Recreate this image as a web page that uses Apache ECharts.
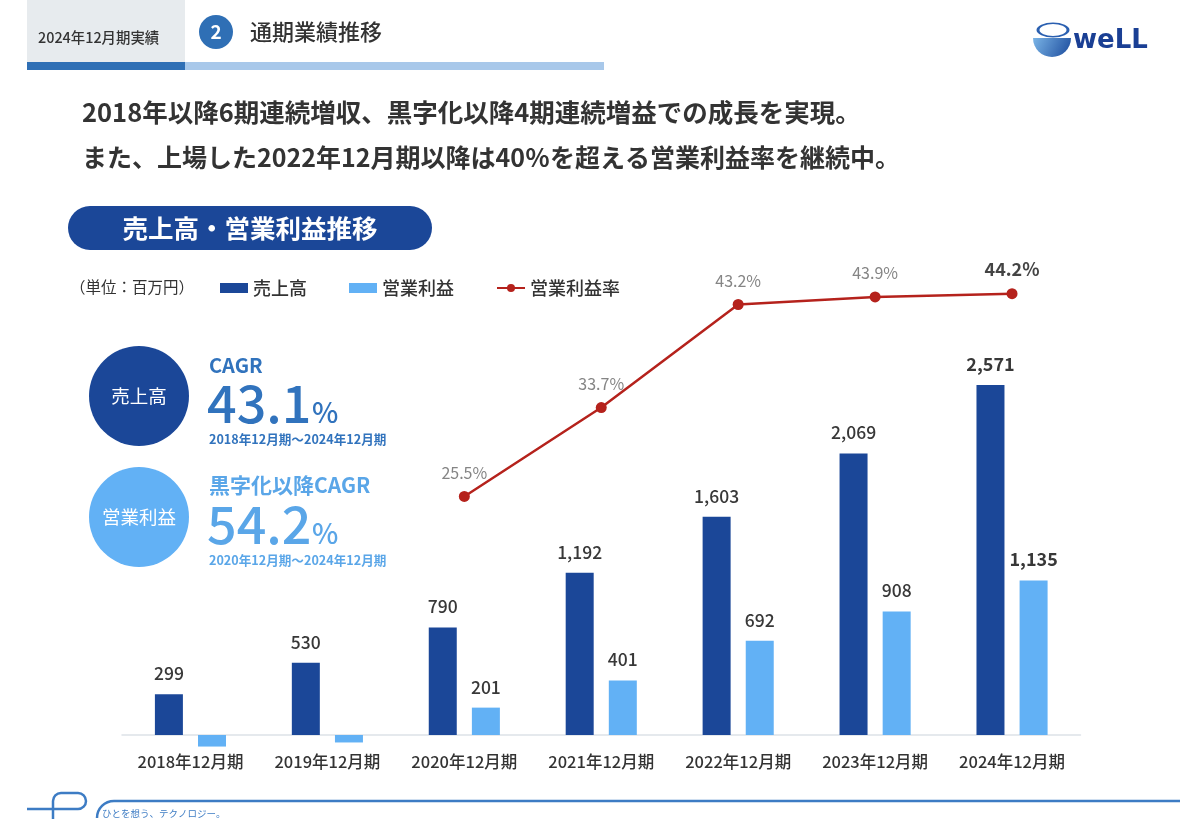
<!DOCTYPE html>
<html>
<head>
<meta charset="utf-8">
<script src="https://cdn.jsdelivr.net/npm/echarts@6/dist/echarts.min.js"></script>
<style>
html,body{margin:0;padding:0;background:#fff;}
#main{width:1200px;height:819px;}
</style>
</head>
<body>
<div id="main"></div>
<script>
const categories = ['2018年12月期','2019年12月期','2020年12月期','2021年12月期','2022年12月期','2023年12月期','2024年12月期'];
const sales = [299, 530, 790, 1192, 1603, 2069, 2571];
const opProfit = [-85, -55, 201, 401, 692, 908, 1135];
const opMargin = [null, null, 25.5, 33.7, 43.2, 43.9, 44.2];

const FONT = '"Noto Sans CJK JP", "Noto Sans", sans-serif';
const DARK = '#1b4798';
const LIGHT = '#62b1f5';
const RED = '#b5221c';
const MID = '#3173bd';
const LIGHTTXT = '#5aa6e8';
const FOOT = '#3d7cc4';
const LAST = categories.length - 1;

const fmt = v => v.toLocaleString('en-US');

const salesData = sales.map((v, i) => ({
  value: v,
  label: i === LAST ? { fontSize: 18, fontWeight: 'bold' } : {}
}));
const opData = opProfit.map((v, i) => ({
  value: v,
  label: v < 0 ? { show: false } : (i === LAST ? { fontSize: 18, fontWeight: 'bold' } : {})
}));
const marginData = opMargin.map((v, i) => (v === null ? null : {
  value: v,
  label: i === LAST ? { fontSize: 18, fontWeight: 'bold', color: '#444' } : {}
}));

const chart = echarts.init(document.getElementById('main'), null, { renderer: 'canvas' });

const stroke = { fill: 'none', stroke: FOOT, lineWidth: 2.5 };

const graphics = [
  // header
  { type: 'rect', shape: { x: 27, y: 0, width: 158, height: 62 }, style: { fill: '#e7ebee' } },
  { type: 'text', x: 38, y: 38, style: { text: '2024年12月期実績', font: '500 14.4px ' + FONT, fill: '#333', verticalAlign: 'middle' } },
  { type: 'rect', shape: { x: 27, y: 62, width: 158, height: 8 }, style: { fill: '#2f6fb5' } },
  { type: 'rect', shape: { x: 185, y: 62, width: 419, height: 8 }, style: { fill: '#a8c8ea' } },
  { type: 'circle', shape: { cx: 216, cy: 32, r: 17 }, style: { fill: '#2f6fb5' } },
  { type: 'text', x: 216, y: 32, style: { text: '2', font: 'bold 19px ' + FONT, fill: '#fff', align: 'center', verticalAlign: 'middle' } },
  { type: 'text', x: 250, y: 32, style: { text: '通期業績推移', font: '500 22px ' + FONT, fill: '#333', verticalAlign: 'middle' } },
  // logo
  { type: 'sector', shape: { cx: 1052, cy: 38, r0: 0, r: 19, startAngle: 0, endAngle: Math.PI, clockwise: true },
    style: { fill: { type: 'linear', x: 0, y: 0, x2: 1, y2: 1, colorStops: [{ offset: 0, color: '#7ab4e6' }, { offset: 1, color: '#1a4a9c' }] } } },
  { type: 'arc', x: 1053, y: 30, scaleY: 0.45, shape: { cx: 0, cy: 0, r: 15, startAngle: 0, endAngle: Math.PI * 2 },
    style: { fill: 'none', stroke: '#2a5fb0', lineWidth: 3 } },
  { type: 'text', x: 1073, y: 41, style: { text: 'weLL', font: 'bold 26px "DejaVu Sans", sans-serif', fill: '#1a3f94', verticalAlign: 'middle' } },
  // headline
  { type: 'text', x: 82, y: 112, style: { text: '2018年以降6期連続増収、黒字化以降4期連続増益での成長を実現。', font: 'bold 25.5px ' + FONT, fill: '#333', verticalAlign: 'middle' } },
  { type: 'text', x: 82, y: 157, style: { text: 'また、上場した2022年12月期以降は40％を超える営業利益率を継続中。', font: 'bold 25px ' + FONT, fill: '#333', verticalAlign: 'middle' } },
  // pill
  { type: 'rect', shape: { x: 68, y: 206, width: 364, height: 44, r: 22 }, style: { fill: DARK } },
  { type: 'text', x: 250, y: 228, style: { text: '売上高・営業利益推移', font: 'bold 25.5px ' + FONT, fill: '#fff', align: 'center', verticalAlign: 'middle' } },
  { type: 'text', x: 70, y: 287, style: { text: '（単位：百万円）', font: '15.5px ' + FONT, fill: '#333', verticalAlign: 'middle' } },
  // CAGR blocks
  { type: 'circle', shape: { cx: 139, cy: 396, r: 50 }, style: { fill: DARK } },
  { type: 'text', x: 139, y: 396, style: { text: '売上高', font: '18.5px ' + FONT, fill: '#fff', align: 'center', verticalAlign: 'middle' } },
  { type: 'circle', shape: { cx: 139, cy: 517, r: 50 }, style: { fill: LIGHT } },
  { type: 'text', x: 139, y: 517, style: { text: '営業利益', font: '18.5px ' + FONT, fill: '#fff', align: 'center', verticalAlign: 'middle' } },
  { type: 'text', x: 209, y: 365, style: { text: 'CAGR', font: 'bold 20px ' + FONT, fill: MID, verticalAlign: 'middle' } },
  { type: 'text', x: 207, y: 403, style: { text: '43.1', font: '500 52px ' + FONT, fill: MID, verticalAlign: 'middle' } },
  { type: 'text', x: 312, y: 412, style: { text: '%', font: '500 28px ' + FONT, fill: MID, verticalAlign: 'middle' } },
  { type: 'text', x: 209, y: 439, style: { text: '2018年12月期～2024年12月期', font: 'bold 12.6px ' + FONT, fill: MID, verticalAlign: 'middle' } },
  { type: 'text', x: 209, y: 485, style: { text: '黒字化以降CAGR', font: 'bold 21px ' + FONT, fill: LIGHTTXT, verticalAlign: 'middle' } },
  { type: 'text', x: 207, y: 524, style: { text: '54.2', font: '500 52px ' + FONT, fill: LIGHTTXT, verticalAlign: 'middle' } },
  { type: 'text', x: 312, y: 533, style: { text: '%', font: '500 28px ' + FONT, fill: LIGHTTXT, verticalAlign: 'middle' } },
  { type: 'text', x: 209, y: 560, style: { text: '2020年12月期～2024年12月期', font: 'bold 12.6px ' + FONT, fill: LIGHTTXT, verticalAlign: 'middle' } },
  // footer
  { type: 'line', shape: { x1: 114, y1: 801, x2: 1180, y2: 801 }, style: stroke },
  { type: 'arc', shape: { cx: 114, cy: 818, r: 17, startAngle: Math.PI, endAngle: Math.PI * 1.5, clockwise: true }, style: stroke },
  { type: 'line', shape: { x1: 27, y1: 809, x2: 78, y2: 809 }, style: stroke },
  { type: 'arc', shape: { cx: 78, cy: 801, r: 8, startAngle: -Math.PI / 2, endAngle: Math.PI / 2, clockwise: true }, style: stroke },
  { type: 'line', shape: { x1: 61, y1: 793, x2: 78, y2: 793 }, style: stroke },
  { type: 'arc', shape: { cx: 61, cy: 801, r: 8, startAngle: Math.PI, endAngle: Math.PI * 1.5, clockwise: true }, style: stroke },
  { type: 'line', shape: { x1: 53, y1: 801, x2: 53, y2: 819 }, style: stroke },
  { type: 'text', x: 102, y: 813, style: { text: 'ひとを想う、テクノロジー。', font: '9.5px ' + FONT, fill: FOOT, verticalAlign: 'middle' } }
];

chart.setOption({
  animation: false,
  textStyle: { fontFamily: FONT },
  legend: {
    left: 215, top: 274,
    itemWidth: 28, itemHeight: 10, itemGap: 42,
    textStyle: { fontSize: 18, color: '#333', fontFamily: FONT, fontWeight: 500 },
    data: [
      { name: '売上高', icon: 'rect' },
      { name: '営業利益', icon: 'rect' },
      { name: '営業利益率' }
    ]
  },
  grid: { left: 122, right: 119.5, top: 190.6, bottom: 56.8 },
  xAxis: {
    type: 'category',
    data: categories,
    axisTick: { show: false },
    axisLine: { onZero: true, onZeroAxisIndex: 0, lineStyle: { color: '#dde2e8', width: 1.5 } },
    axisLabel: { interval: 0, hideOverlap: false, fontSize: 16.5, color: '#333', fontWeight: 500, margin: -9, fontFamily: FONT }
  },
  yAxis: [
    { type: 'value', min: -200, max: 4000, show: false, splitLine: { show: false } },
    { type: 'value', min: 1, max: 53.7, show: false, splitLine: { show: false } }
  ],
  series: [
    {
      name: '売上高', type: 'bar', yAxisIndex: 0, data: salesData,
      barWidth: 28, barGap: '54%',
      itemStyle: { color: DARK },
      label: { show: true, position: 'top', distance: 12, fontSize: 17.5, fontWeight: 500, color: '#383838', fontFamily: FONT, formatter: p => fmt(p.value) }
    },
    {
      name: '営業利益', type: 'bar', yAxisIndex: 0, data: opData,
      barWidth: 28, barGap: '54%',
      itemStyle: { color: LIGHT },
      label: { show: true, position: 'top', distance: 12, fontSize: 17.5, fontWeight: 500, color: '#383838', fontFamily: FONT, formatter: p => fmt(p.value) }
    },
    {
      name: '営業利益率', type: 'line', yAxisIndex: 1, data: marginData,
      symbol: 'circle', symbolSize: 11,
      lineStyle: { color: RED, width: 2.5 },
      itemStyle: { color: RED },
      label: { show: true, position: 'top', distance: 10, fontSize: 16, color: '#858585', fontFamily: FONT, formatter: p => p.value.toFixed(1) + '%' }
    }
  ],
  graphic: graphics
});
</script>
</body>
</html>
